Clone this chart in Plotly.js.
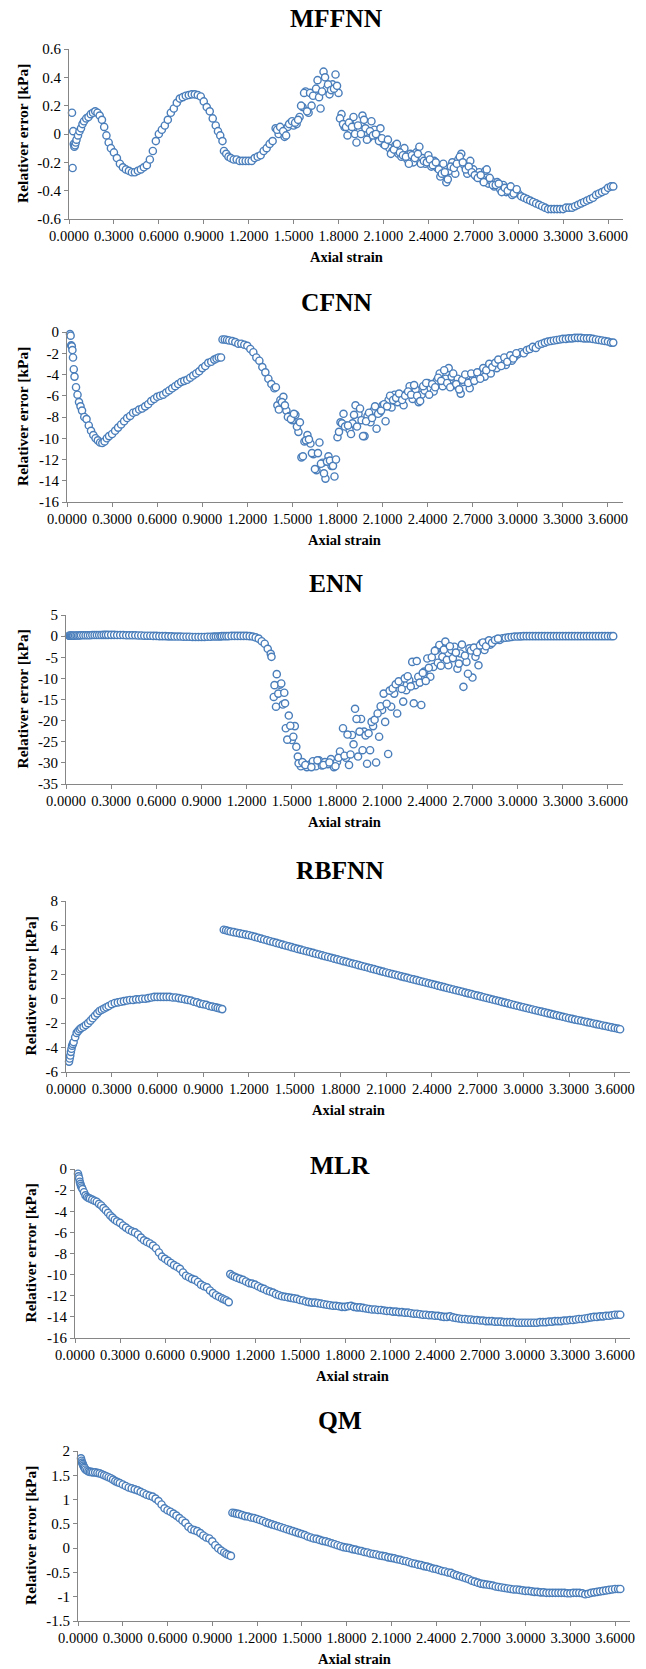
<!DOCTYPE html>
<html>
<head>
<meta charset="utf-8">
<script src="https://cdn.plot.ly/plotly-3.0.1.min.js"></script>
<style>
  html, body { margin: 0; padding: 0; background: #ffffff; }
  #chart { width: 646px; height: 1669px; }
</style>
</head>
<body>
<div id="chart"></div>
<script>
// ---------------- DATA ----------------
const strain = [
  0.020,0.024,0.028,0.032,0.036,0.040,0.045,0.050,0.060,0.070,
  0.080,0.090,0.100,0.115,0.130,0.145,0.160,0.175,0.190,0.205,
  0.220,0.235,0.250,0.265,0.280,0.300,0.320,0.340,0.360,0.380,
  0.400,0.420,0.440,0.460,0.480,0.500,0.520,0.540,0.560,0.580,
  0.600,0.620,0.640,0.660,0.680,0.700,0.720,0.740,0.760,0.780,
  0.800,0.820,0.840,0.860,0.880,0.900,0.920,0.940,0.960,0.980,
  0.995,1.010,1.025,1.035,1.050,1.065,1.080,1.100,1.120,1.140,
  1.16,1.18,1.20,1.22,1.24,1.26,1.28,1.30,1.32,1.34,
  1.36,1.38,1.40,1.42,1.44,1.46,1.48,1.50,1.52,1.54,
  1.56,1.58,1.60,1.62,1.64,1.66,1.68,1.70,1.72,1.74,
  1.76,1.78,1.80,1.82,1.84,1.86,1.88,1.90,1.92,1.94,
  1.96,1.98,2.00,2.02,2.04,2.06,2.08,2.10,2.12,2.14,
  2.16,2.18,2.20,2.22,2.24,2.26,2.28,2.30,2.32,2.34,
  2.36,2.38,2.40,2.42,2.44,2.46,2.48,2.50,2.52,2.54,
  2.56,2.58,2.60,2.62,2.64,2.66,2.68,2.70,2.72,2.74,
  2.76,2.78,2.80,2.82,2.84,2.86,2.88,2.90,2.92,2.94,
  2.96,2.98,3.00,3.02,3.04,3.06,3.08,3.10,3.12,3.14,
  3.16,3.18,3.20,3.22,3.24,3.26,3.28,3.30,3.32,3.34,
  3.36,3.38,3.40,3.42,3.44,3.46,3.48,3.50,3.52,3.54,
  3.56,3.58,3.60,3.62,3.635
];

const mffnnErr = [
  0.15,-0.24,0.02,-0.07,-0.09,-0.08,-0.06,-0.04,-0.01,0.02,
  0.04,0.07,0.09,0.11,0.12,0.14,0.15,0.16,0.15,0.13,
  0.10,0.05,-0.01,-0.06,-0.10,-0.13,-0.17,-0.21,-0.235,-0.25,
  -0.26,-0.27,-0.27,-0.26,-0.25,-0.235,-0.22,-0.18,-0.12,-0.05,
  0.00,0.03,0.06,0.10,0.15,0.18,0.22,0.25,0.26,0.27,
  0.275,0.28,0.28,0.275,0.265,0.23,0.19,0.16,0.11,0.06,
  0.02,-0.01,-0.05,-0.12,-0.14,-0.16,-0.17,-0.18,-0.18,-0.19,
  -0.19,-0.19,-0.19,-0.19,-0.17,-0.16,-0.15,-0.12,-0.10,-0.07,
  -0.05,0.04,0.00,0.03,-0.02,0.05,0.08,0.06,0.07,0.12,
  0.19,0.30,0.15,0.20,0.29,0.38,0.18,0.44,0.32,0.28,
  0.35,0.42,0.29,0.14,0.05,-0.01,0.07,0.12,-0.06,0.02,
  0.13,0.04,-0.03,0.09,0.03,-0.02,0.04,-0.07,-0.05,-0.10,
  -0.12,-0.08,-0.14,-0.16,-0.10,-0.18,-0.14,-0.20,-0.13,-0.09,
  -0.17,-0.21,-0.15,-0.23,-0.19,-0.24,-0.30,-0.21,-0.34,-0.26,
  -0.20,-0.28,-0.18,-0.14,-0.22,-0.28,-0.19,-0.25,-0.30,-0.27,
  -0.32,-0.26,-0.35,-0.33,-0.37,-0.34,-0.39,-0.36,-0.41,-0.38,
  -0.43,-0.40,-0.42,-0.44,-0.45,-0.46,-0.47,-0.48,-0.49,-0.50,
  -0.51,-0.52,-0.53,-0.53,-0.53,-0.53,-0.53,-0.53,-0.52,-0.52,
  -0.52,-0.51,-0.50,-0.49,-0.48,-0.47,-0.46,-0.45,-0.43,-0.42,
  -0.41,-0.40,-0.38,-0.37,-0.37
];

const cfnnErr = [
  -0.2,-0.35,-1.25,-1.35,-1.7,-2.4,-3.5,-4.2,-5.2,-5.9,
  -6.6,-7.0,-7.4,-8.0,-8.2,-8.8,-9.3,-9.7,-10.0,-10.2,
  -10.4,-10.45,-10.3,-10.0,-9.8,-9.6,-9.3,-9.0,-8.7,-8.4,
  -8.1,-7.9,-7.6,-7.5,-7.3,-7.2,-7.0,-6.8,-6.5,-6.3,
  -6.1,-6.0,-5.9,-5.7,-5.5,-5.3,-5.1,-4.9,-4.7,-4.6,
  -4.5,-4.3,-4.1,-3.9,-3.7,-3.4,-3.2,-2.9,-2.8,-2.6,
  -2.5,-2.4,-2.4,-0.7,-0.7,-0.75,-0.8,-0.85,-0.95,-1.1,
  -1.1,-1.2,-1.3,-1.6,-1.9,-2.4,-2.7,-3.3,-3.8,-4.4,
  -4.9,-5.3,-6.9,-6.4,-6.1,-7.4,-7.9,-8.3,-7.8,-9.4,
  -11.8,-10.3,-9.7,-10.5,-11.5,-13.0,-10.4,-12.3,-13.8,-11.7,
  -12.6,-13.6,-9.9,-8.5,-7.7,-8.8,-9.2,-8.6,-6.9,-7.7,
  -8.3,-9.8,-7.9,-8.5,-7.4,-9.1,-7.6,-6.9,-8.4,-6.4,
  -7.1,-5.9,-6.6,-6.1,-6.9,-5.8,-5.1,-6.3,-5.4,-6.6,
  -5.9,-5.5,-4.8,-5.3,-5.6,-4.6,-3.9,-5.1,-4.4,-3.4,
  -4.2,-5.0,-4.4,-5.8,-4.7,-4.1,-5.3,-4.5,-4.0,-4.3,
  -3.7,-4.2,-3.5,-3.9,-3.2,-3.4,-3.0,-2.8,-3.1,-2.5,
  -2.7,-2.3,-2.1,-1.9,-2.0,-1.7,-1.6,-1.4,-1.5,-1.2,
  -1.1,-1.0,-0.9,-0.85,-0.8,-0.75,-0.7,-0.65,-0.65,-0.6,
  -0.6,-0.55,-0.55,-0.55,-0.6,-0.6,-0.6,-0.65,-0.7,-0.75,
  -0.8,-0.85,-0.9,-1.0,-1.0
];

const ennErr = [
  0.1,0.1,0.1,0.1,0.1,0.1,0.1,0.1,0.15,0.15,
  0.15,0.15,0.2,0.2,0.2,0.2,0.2,0.25,0.25,0.25,
  0.25,0.25,0.3,0.3,0.3,0.3,0.3,0.25,0.25,0.25,
  0.2,0.2,0.2,0.2,0.15,0.15,0.1,0.1,0.1,0.05,
  0.05,0.0,0.0,0.0,-0.05,-0.05,-0.1,-0.1,-0.1,-0.15,
  -0.15,-0.15,-0.2,-0.2,-0.2,-0.2,-0.2,-0.15,-0.15,-0.1,
  -0.1,-0.1,-0.05,0.0,0.0,0.0,0.0,0.05,0.05,0.05,
  0.05,0.05,0.05,0.0,-0.1,-0.3,-0.6,-1.2,-1.8,-3.0,
  -4.2,-14.4,-9.0,-11.5,-16.2,-21.8,-18.8,-24.6,-21.3,-28.5,
  -30.8,-30.2,-31.0,-30.4,-29.6,-30.8,-29.4,-30.6,-29.8,-30.3,
  -29.1,-31.0,-29.8,-27.3,-21.8,-28.8,-30.5,-23.4,-17.2,-28.5,
  -19.6,-22.6,-30.2,-27.0,-21.3,-29.9,-23.8,-17.5,-20.3,-27.9,
  -16.7,-13.6,-18.3,-11.0,-15.5,-12.8,-10.4,-6.1,-11.6,-9.6,
  -16.3,-8.4,-5.3,-9.6,-7.3,-3.3,-2.1,-4.9,-1.3,-6.9,
  -3.3,-2.5,-7.7,-4.1,-12.0,-6.1,-2.9,-9.8,-4.9,-6.9,
  -1.7,-3.3,-1.3,-2.0,-1.2,-0.8,-0.9,-0.5,-0.4,-0.3,
  -0.2,-0.1,-0.1,-0.05,0,0,0,0,0,0,
  0,0,0,0,0,0,0,0,0,0,
  0,0,0,0,0,0,0,0,0,0,
  0,0,0,0,0
];

const rbfnnErr = [
  -5.15,-4.9,-4.65,-4.35,-4.1,-3.85,-3.7,-3.55,-3.15,-2.8,
  -2.65,-2.5,-2.4,-2.3,-2.15,-2.0,-1.8,-1.6,-1.4,-1.2,
  -1.0,-0.9,-0.8,-0.7,-0.6,-0.45,-0.35,-0.3,-0.25,-0.2,
  -0.15,-0.1,-0.1,-0.05,-0.05,0.0,0.0,0.05,0.1,0.15,
  0.15,0.15,0.15,0.15,0.15,0.1,0.1,0.05,0.0,-0.05,
  -0.1,-0.15,-0.25,-0.3,-0.4,-0.45,-0.5,-0.6,-0.65,-0.7,
  -0.75,-0.8,-0.85,5.65,5.6,5.55,5.5,5.45,5.4,5.35,
  5.3,5.25,5.2,5.13,5.06,4.99,4.92,4.85,4.78,4.71,
  4.64,4.57,4.5,4.43,4.36,4.29,4.22,4.15,4.08,4.02,
  3.95,3.88,3.82,3.75,3.68,3.62,3.55,3.48,3.42,3.35,
  3.28,3.22,3.15,3.08,3.02,2.95,2.88,2.82,2.75,2.68,
  2.62,2.55,2.48,2.42,2.35,2.28,2.22,2.15,2.09,2.02,
  1.96,1.9,1.83,1.77,1.71,1.64,1.58,1.52,1.45,1.39,
  1.33,1.26,1.2,1.14,1.07,1.01,0.95,0.88,0.82,0.76,
  0.69,0.63,0.57,0.5,0.44,0.38,0.31,0.25,0.19,0.12,
  0.06,0.0,-0.07,-0.13,-0.19,-0.26,-0.32,-0.38,-0.45,-0.51,
  -0.57,-0.64,-0.7,-0.76,-0.82,-0.88,-0.94,-1.0,-1.06,-1.12,
  -1.18,-1.24,-1.3,-1.36,-1.42,-1.48,-1.54,-1.6,-1.65,-1.71,
  -1.76,-1.81,-1.87,-1.92,-1.97,-2.03,-2.08,-2.13,-2.19,-2.24,
  -2.29,-2.35,-2.4,-2.45,-2.5
];

const mlrErr = [
  -0.45,-0.7,-0.9,-1.2,-1.4,-1.6,-1.75,-1.9,-2.2,-2.5,
  -2.65,-2.75,-2.8,-2.9,-3.0,-3.1,-3.3,-3.45,-3.7,-3.9,
  -4.15,-4.4,-4.6,-4.8,-4.95,-5.1,-5.35,-5.55,-5.75,-5.9,
  -6.0,-6.2,-6.5,-6.75,-6.9,-7.05,-7.25,-7.5,-7.9,-8.3,
  -8.5,-8.7,-8.9,-9.1,-9.25,-9.45,-9.8,-10.1,-10.25,-10.4,
  -10.5,-10.7,-10.95,-11.1,-11.2,-11.5,-11.75,-11.95,-12.1,-12.25,
  -12.35,-12.45,-12.6,-9.95,-10.1,-10.2,-10.3,-10.4,-10.5,-10.65,
  -10.8,-10.85,-10.95,-11.1,-11.25,-11.35,-11.5,-11.6,-11.7,-11.85,
  -11.95,-12.05,-12.1,-12.15,-12.2,-12.25,-12.3,-12.4,-12.45,-12.55,
  -12.6,-12.65,-12.65,-12.7,-12.75,-12.8,-12.85,-12.9,-12.95,-12.95,
  -13.0,-13.05,-13.05,-13.0,-12.95,-13.05,-13.1,-13.1,-13.15,-13.2,
  -13.25,-13.3,-13.3,-13.35,-13.35,-13.4,-13.45,-13.45,-13.5,-13.5,
  -13.55,-13.55,-13.6,-13.6,-13.65,-13.7,-13.7,-13.75,-13.8,-13.8,
  -13.85,-13.85,-13.9,-13.9,-13.95,-14.0,-14.0,-13.95,-14.05,-14.1,
  -14.15,-14.2,-14.2,-14.25,-14.25,-14.3,-14.3,-14.35,-14.35,-14.4,
  -14.4,-14.4,-14.45,-14.45,-14.45,-14.5,-14.5,-14.5,-14.5,-14.55,
  -14.55,-14.55,-14.55,-14.55,-14.55,-14.55,-14.55,-14.5,-14.5,-14.5,
  -14.45,-14.45,-14.4,-14.4,-14.4,-14.35,-14.35,-14.3,-14.3,-14.25,
  -14.2,-14.2,-14.15,-14.1,-14.05,-14.0,-14.0,-13.95,-13.95,-13.9,
  -13.9,-13.85,-13.8,-13.8,-13.8
];

const qmErr = [
  1.85,1.8,1.76,1.73,1.7,1.67,1.65,1.62,1.6,1.58,
  1.57,1.57,1.56,1.56,1.55,1.54,1.52,1.5,1.48,1.46,
  1.44,1.41,1.38,1.36,1.34,1.31,1.28,1.25,1.23,1.21,
  1.19,1.16,1.13,1.1,1.08,1.06,1.02,0.97,0.9,0.82,
  0.78,0.75,0.71,0.67,0.62,0.57,0.52,0.44,0.39,0.37,
  0.35,0.31,0.26,0.22,0.2,0.14,0.06,0.0,-0.05,-0.09,
  -0.12,-0.14,-0.16,0.73,0.72,0.71,0.7,0.68,0.66,0.65,
  0.63,0.62,0.6,0.58,0.56,0.53,0.51,0.49,0.47,0.45,
  0.43,0.41,0.39,0.37,0.35,0.33,0.31,0.29,0.27,0.24,
  0.22,0.2,0.19,0.17,0.15,0.14,0.12,0.1,0.08,0.06,
  0.04,0.02,0.01,0.0,-0.02,-0.03,-0.05,-0.06,-0.08,-0.09,
  -0.11,-0.12,-0.13,-0.15,-0.16,-0.17,-0.19,-0.2,-0.21,-0.23,
  -0.24,-0.26,-0.27,-0.29,-0.31,-0.32,-0.34,-0.35,-0.37,-0.38,
  -0.4,-0.42,-0.43,-0.45,-0.47,-0.48,-0.5,-0.51,-0.54,-0.56,
  -0.58,-0.6,-0.62,-0.64,-0.67,-0.69,-0.71,-0.73,-0.74,-0.75,
  -0.76,-0.77,-0.79,-0.8,-0.81,-0.82,-0.83,-0.84,-0.85,-0.85,
  -0.86,-0.87,-0.88,-0.88,-0.89,-0.9,-0.9,-0.91,-0.91,-0.92,
  -0.92,-0.92,-0.92,-0.92,-0.92,-0.92,-0.93,-0.93,-0.92,-0.92,
  -0.92,-0.93,-0.95,-0.94,-0.92,-0.91,-0.9,-0.89,-0.88,-0.87,
  -0.86,-0.85,-0.84,-0.84,-0.84
];

// additional scattered points in the noisy regions
const extraStrain = [
  1.39,1.41,1.43,1.45,1.47,1.49,1.51,1.53,1.55,1.57,
  1.59,1.61,1.63,1.65,1.67,1.69,1.71,1.73,1.75,1.77,
  1.79,1.81,1.83,1.85,1.87,1.89,1.91,1.93,1.95,1.97,
  1.99,2.01,2.03,2.05,2.07,2.09,2.11,2.13,2.15,2.17,
  2.19,2.21,2.23,2.25,2.27,2.29,2.31,2.33,2.35,2.37,
  2.39,2.41,2.43,2.45,2.47,2.49,2.51,2.53,2.55,2.57,
  2.59,2.61,2.63,2.65,2.67,2.69,2.71,2.73,2.75,2.77,
  2.79,2.81,2.83,2.85,2.87,2.89,2.91,2.93,2.95,2.97,
  2.99
];
const mffnnExtraErr = [
  0.03,0.05,0.02,-0.01,0.07,0.09,0.08,0.10,0.20,0.29,
  0.16,0.29,0.27,0.32,0.26,0.30,0.40,0.35,0.31,0.32,
  0.34,0.11,0.07,0.05,0.08,0.05,0.00,0.06,0.00,0.10,
  -0.04,0.02,-0.01,0.00,-0.05,-0.03,-0.08,-0.04,-0.14,-0.11,
  -0.07,-0.13,-0.15,-0.16,-0.21,-0.15,-0.17,-0.14,-0.21,-0.19,
  -0.20,-0.18,-0.22,-0.20,-0.25,-0.28,-0.27,-0.32,-0.23,-0.24,
  -0.21,-0.16,-0.20,-0.25,-0.23,-0.27,-0.29,-0.31,-0.29,-0.34,
  -0.25,-0.31,-0.36,-0.36,-0.35,-0.41,-0.38,-0.40,-0.37,-0.42,
  -0.39
];
const cfnnExtraErr = [
  -5.2,-7.3,-6.6,-6.9,-8.0,-8.2,-7.7,-8.9,-8.5,-11.7,
  -10.2,-10.1,-11.4,-12.9,-11.4,-12.4,-13.3,-12.2,-12.1,-12.6,
  -12.0,-9.4,-8.6,-8.9,-8.8,-9.6,-7.8,-8.9,-7.2,-9.8,
  -8.4,-7.6,-8.1,-7.0,-7.7,-7.4,-6.8,-7.0,-6.0,-6.4,
  -6.2,-5.8,-6.4,-6.0,-5.6,-5.9,-5.0,-6.0,-6.5,-5.1,
  -4.8,-5.9,-4.9,-5.2,-4.3,-4.6,-3.6,-4.8,-5.2,-3.9,
  -4.9,-5.4,-4.5,-4.0,-4.8,-3.9,-4.6,-3.8,-4.4,-3.4,
  -3.6,-3.0,-3.3,-2.9,-2.6,-3.2,-2.4,-2.8,-2.2,-2.5,
  -2.0
];
const ennExtraStrain = [
  1.365,1.385,1.395,1.41,1.43,1.45,1.455,1.47,1.49,1.51,
  1.53,1.545,1.57,1.59,1.63,1.67,1.71,1.75,1.79,1.81,
  1.85,1.87,1.89,1.91,1.93,1.95,1.97,1.99,2.01,2.03,
  2.05,2.07,2.09,2.11,2.13,2.15,2.17,2.19,2.21,2.23,
  2.25,2.27,2.29,2.31,2.33,2.35,2.37,2.39,2.41,2.43,
  2.45,2.47,2.49,2.51,2.53,2.55,2.57,2.59,2.61,2.63,
  2.65,2.67,2.69,2.71,2.73,2.75,2.77,2.79,2.81,2.83,
  2.85,2.87
];
const ennExtraErr = [
  -4.9,-11.6,-16.7,-13.6,-11.2,-13.4,-15.9,-24.5,-21.2,-23.8,
  -26.2,-30.1,-29.8,-30.5,-31.0,-29.4,-30.5,-29.9,-30.8,-28.8,
  -28.3,-23.3,-28.0,-25.6,-19.6,-22.6,-27.0,-23.5,-23.0,-20.3,
  -19.8,-18.3,-16.6,-13.6,-16.0,-12.9,-12.4,-11.4,-10.7,-12.5,
  -10.0,-9.5,-11.9,-15.9,-5.9,-11.0,-8.7,-10.6,-7.5,-5.0,
  -3.5,-6.3,-7.0,-3.2,-5.6,-2.4,-5.2,-3.9,-6.5,-2.0,
  -4.6,-8.9,-3.4,-2.7,-3.8,-2.2,-1.5,-2.4,-1.0,-1.6,
  -0.9,-0.6
];

const panelTitles = ['MFFNN', 'CFNN', 'ENN', 'RBFNN', 'MLR', 'QM'];
const xTickVals = [0, 0.3, 0.6, 0.9, 1.2, 1.5, 1.8, 2.1, 2.4, 2.7, 3.0, 3.3, 3.6];
const xTickText = ['0.0000','0.3000','0.6000','0.9000','1.2000','1.5000','1.8000',
                   '2.1000','2.4000','2.7000','3.0000','3.3000','3.6000'];
const mffnnTicks = [0.6, 0.4, 0.2, 0, -0.2, -0.4, -0.6];
const mffnnTickText = ['0.6','0.4','0.2','0','-0.2','-0.4','-0.6'];
const cfnnTicks = [0, -2, -4, -6, -8, -10, -12, -14, -16];
const cfnnTickText = ['0','-2','-4','-6','-8','-10','-12','-14','-16'];
const ennTicks = [5, 0, -5, -10, -15, -20, -25, -30, -35];
const ennTickText = ['5','0','-5','-10','-15','-20','-25','-30','-35'];
const rbfnnTicks = [8, 6, 4, 2, 0, -2, -4, -6];
const rbfnnTickText = ['8','6','4','2','0','-2','-4','-6'];
const mlrTicks = [0, -2, -4, -6, -8, -10, -12, -14, -16];
const mlrTickText = ['0','-2','-4','-6','-8','-10','-12','-14','-16'];
const qmTicks = [2, 1.5, 1, 0.5, 0, -0.5, -1, -1.5];
const qmTickText = ['2','1.5','1','0.5','0','-0.5','-1','-1.5'];
const xTitle = 'Axial strain';
const yTitle = 'Relativer error [kPa]';

// ---------------- LAYOUT / STYLE ----------------
const W = 646, H = 1669;
const FONT = 'Liberation Serif, Times New Roman, serif';
const AXIS_COLOR = '#868686';
const MARK_COLOR = '#4a7ebb';

// pixel boxes of each plot area: left, right, top, bottom, title centre y, title centre x, y-title x
const boxes = [
  { l: 69, r: 623, t: 49,   b: 219,  ty: 18,   tx: 336, yx: 22 },
  { l: 67, r: 623, t: 332,  b: 502,  ty: 302,  tx: 336, yx: 22 },
  { l: 66, r: 623, t: 615,  b: 784,  ty: 583,  tx: 336, yx: 22 },
  { l: 66, r: 630, t: 901,  b: 1072, ty: 870,  tx: 340, yx: 30 },
  { l: 75, r: 630, t: 1169, b: 1338, ty: 1165, tx: 340, yx: 30 },
  { l: 78, r: 630, t: 1451, b: 1621, ty: 1420, tx: 340, yx: 30 }
];

const panels = [
  { y: mffnnErr, ex: extraStrain, ey: mffnnExtraErr, range: [-0.6, 0.6], tv: mffnnTicks, tt: mffnnTickText },
  { y: cfnnErr,  ex: extraStrain, ey: cfnnExtraErr,  range: [-16, 0],    tv: cfnnTicks,  tt: cfnnTickText },
  { y: ennErr,   ex: ennExtraStrain, ey: ennExtraErr, range: [-35, 5],   tv: ennTicks,   tt: ennTickText },
  { y: rbfnnErr, range: [-6, 8],     tv: rbfnnTicks, tt: rbfnnTickText },
  { y: mlrErr,   range: [-16, 0],    tv: mlrTicks,   tt: mlrTickText },
  { y: qmErr,    range: [-1.5, 2],   tv: qmTicks,    tt: qmTickText }
];

const traces = [];
const annotations = [];
const layout = {
  width: W, height: H,
  margin: { l: 0, r: 0, t: 0, b: 0, pad: 0 },
  paper_bgcolor: '#ffffff',
  plot_bgcolor: 'rgba(0,0,0,0)',
  showlegend: false,
  hovermode: false,
  font: { family: FONT, color: '#000000' }
};

function px2x(px) { return px / W; }
function px2y(py) { return 1 - py / H; }

panels.forEach((p, i) => {
  const n = i === 0 ? '' : String(i + 1);
  const b = boxes[i];
  const marker = { symbol: 'circle', size: 7.2, color: '#ffffff', line: { color: MARK_COLOR, width: 1.4 } };
  traces.push({
    type: 'scatter', mode: 'markers', x: strain, y: p.y,
    xaxis: 'x' + n, yaxis: 'y' + n, marker: marker, cliponaxis: false, hoverinfo: 'skip'
  });
  if (p.ex) {
    traces.push({
      type: 'scatter', mode: 'markers', x: p.ex, y: p.ey,
      xaxis: 'x' + n, yaxis: 'y' + n, marker: marker, cliponaxis: false, hoverinfo: 'skip'
    });
  }
  layout['xaxis' + n] = {
    domain: [px2x(b.l), px2x(b.r)],
    range: [0, 3.7],
    anchor: 'y' + n,
    tickmode: 'array', tickvals: xTickVals, ticktext: xTickText,
    showline: true, linecolor: AXIS_COLOR, linewidth: 1,
    ticks: 'outside', ticklen: 4, tickwidth: 1, tickcolor: AXIS_COLOR,
    showgrid: false, zeroline: false, fixedrange: true,
    tickfont: { family: FONT, size: 14.5, color: '#000000' }
  };
  layout['yaxis' + n] = {
    domain: [px2y(b.b), px2y(b.t)],
    range: p.range,
    anchor: 'x' + n,
    tickmode: 'array', tickvals: p.tv, ticktext: p.tt,
    showline: true, linecolor: AXIS_COLOR, linewidth: 1,
    ticks: 'outside', ticklen: 4, tickwidth: 1, tickcolor: AXIS_COLOR,
    showgrid: false, zeroline: false, fixedrange: true,
    tickfont: { family: FONT, size: 15, color: '#000000' }
  };
  // panel title
  annotations.push({
    xref: 'paper', yref: 'paper', x: px2x(b.tx), y: px2y(b.ty),
    xanchor: 'center', yanchor: 'middle', showarrow: false,
    text: '<b>' + panelTitles[i] + '</b>',
    font: { family: FONT, size: 25.5, color: '#000000' }
  });
  // x axis title
  annotations.push({
    xref: 'paper', yref: 'paper', x: px2x((b.l + b.r) / 2), y: px2y(b.b + 38),
    xanchor: 'center', yanchor: 'middle', showarrow: false,
    text: '<b>' + xTitle + '</b>',
    font: { family: FONT, size: 14.5, color: '#000000' }
  });
  // y axis title
  annotations.push({
    xref: 'paper', yref: 'paper', x: px2x(b.yx), y: px2y((b.t + b.b) / 2),
    xanchor: 'center', yanchor: 'middle', showarrow: false, textangle: -90,
    text: '<b>' + yTitle + '</b>',
    font: { family: FONT, size: 15.5, color: '#000000' }
  });
});
layout.annotations = annotations;

Plotly.newPlot('chart', traces, layout, { staticPlot: true, displayModeBar: false });
</script>
</body>
</html>
